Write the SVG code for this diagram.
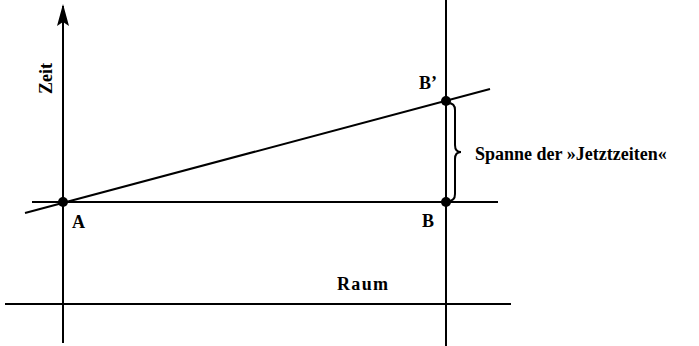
<svg xmlns="http://www.w3.org/2000/svg" width="699" height="346" viewBox="0 0 699 346">
<style>
.ln{stroke:#000;stroke-width:2;fill:none}
.t{font-family:"Liberation Serif","Times New Roman",serif;font-weight:bold;font-size:18px;fill:#000}
</style>
<defs>
<marker id="ah" viewBox="0 0 22 12" refX="20" refY="6" markerWidth="22" markerHeight="12" markerUnits="userSpaceOnUse" orient="auto">
<path d="M22 6 L0 0 L4 6 L0 12 Z" fill="#000"/>
</marker>
</defs>
<rect width="699" height="346" fill="#fff"/>
<g id="connectors">
<line class="ln" x1="63" y1="343" x2="63" y2="6" marker-end="url(#ah)"/>
<line class="ln" x1="446" y1="0" x2="446" y2="346"/>
<line class="ln" x1="5" y1="304" x2="511" y2="304"/>
<line class="ln" x1="32" y1="202" x2="498" y2="202"/>
<line class="ln" x1="25" y1="213" x2="490" y2="89"/>
<path class="ln" d="M448 103 Q455 103 455 110 L455 145 Q455 152 461 152 Q455 152 455 159 L455 194 Q455 201 448 201" stroke-width="1.6"/>
</g>
<g id="A"><circle cx="63" cy="202" r="5"/><text class="t" x="72" y="228">A</text></g>
<g id="B"><circle cx="446" cy="202" r="5"/><text class="t" x="422" y="227">B</text></g>
<g id="Bp"><circle cx="446" cy="101" r="5"/><text class="t" x="419" y="89">B’</text></g>
<g id="zeit"><text class="t" transform="translate(52 94) rotate(-90)">Zeit</text></g>
<g id="raum"><text class="t" x="337" y="290" textLength="51" lengthAdjust="spacing">Raum</text></g>
<g id="spanne"><text class="t" x="475" y="160">Spanne der »Jetztzeiten«</text></g>
</svg>
